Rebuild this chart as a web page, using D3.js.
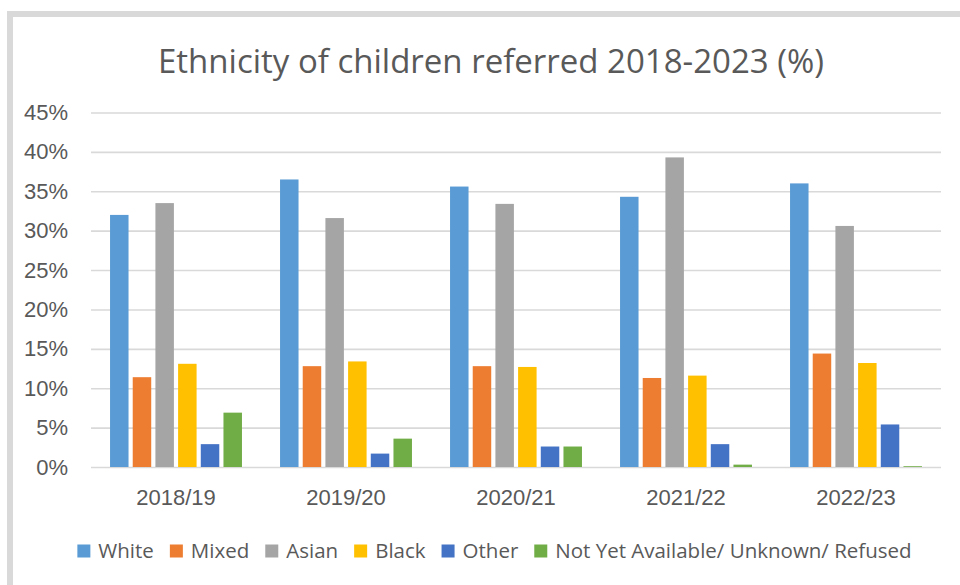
<!DOCTYPE html>
<html>
<head>
<meta charset="utf-8">
<script src="https://cdn.jsdelivr.net/npm/d3@7"></script>
<style>
  html, body { margin: 0; padding: 0; background: #ffffff; }
  svg { display: block; font-family: "Open Sans", "Noto Sans", sans-serif; }
</style>
</head>
<body>
<svg id="chart" width="960" height="585"></svg>
<script>
// Referral years (x categories)
const years = ["2018/19", "2019/20", "2020/21", "2021/22", "2022/23"];

// Ethnic groups (series) and their colours
const groups = ["White", "Mixed", "Asian", "Black", "Other", "Not Yet Available/ Unknown/ Refused"];
const groupColors = ["#5B9BD5", "#ED7D31", "#A5A5A5", "#FFC000", "#4472C4", "#70AD47"];

// Share of children referred (%), one array per group, in year order
const white   = [32.0, 36.5, 35.6, 34.3, 36.0];
const mixed   = [11.4, 12.8, 12.8, 11.3, 14.4];
const asian   = [33.5, 31.6, 33.4, 39.3, 30.6];
const black   = [13.1, 13.4, 12.7, 11.6, 13.2];
const other   = [2.9, 1.7, 2.6, 2.9, 5.4];
const unknown = [6.9, 3.6, 2.6, 0.3, 0.1];

// Y axis tick values (%)
const yTicks = [0, 5, 10, 15, 20, 25, 30, 35, 40, 45];

const seriesValues = [white, mixed, asian, black, other, unknown];
const rows = years.map((yr, i) => ({
  year: yr,
  values: groups.map((g, j) => ({ group: g, color: groupColors[j], value: seriesValues[j][i] }))
}));

const svg = d3.select("#chart");
const textColor = "#595959";
const gridColor = "#D9D9D9";

// Outer chart frame
svg.append("rect")
  .attr("x", 10).attr("y", 14)
  .attr("width", 980).attr("height", 600)
  .attr("fill", "#ffffff")
  .attr("stroke", gridColor)
  .attr("stroke-width", 6);

const plot = { left: 91, right: 941, top: 112.5, bottom: 467 };

const x0 = d3.scaleBand().domain(years).range([plot.left, plot.right]).padding(0);
const groupInset = x0.bandwidth() * 0.112;
const x1 = d3.scaleBand().domain(groups)
  .range([groupInset, x0.bandwidth() - groupInset])
  .paddingInner(0.185).paddingOuter(0);
const y = d3.scaleLinear().domain([0, 45]).range([plot.bottom, plot.top]);

// Gridlines and y tick labels
const yAxis = svg.append("g")
  .attr("transform", `translate(${plot.left},0)`)
  .call(d3.axisLeft(y).tickValues(yTicks)
    .tickSize(-(plot.right - plot.left))
    .tickPadding(23)
    .tickFormat(d => d + "%"));
yAxis.select(".domain").remove();
yAxis.selectAll(".tick line").attr("stroke", gridColor).attr("stroke-width", 1.6);
yAxis.selectAll(".tick text")
  .attr("fill", textColor)
  .style("font-size", "22px");

// Bars
const groupG = svg.append("g").selectAll("g")
  .data(rows).join("g")
  .attr("transform", d => `translate(${x0(d.year)},0)`);
groupG.selectAll("rect")
  .data(d => d.values).join("rect")
  .attr("x", d => x1(d.group))
  .attr("width", x1.bandwidth())
  .attr("y", d => y(d.value))
  .attr("height", d => y(0) - y(d.value))
  .attr("fill", d => d.color);

// X axis labels
const xAxis = svg.append("g")
  .attr("transform", `translate(0,${plot.bottom})`)
  .call(d3.axisBottom(x0).tickSize(0).tickPadding(22));
xAxis.select(".domain").remove();
xAxis.selectAll(".tick text")
  .attr("fill", textColor)
  .style("font-size", "22px");

// Title
svg.append("text")
  .attr("x", 491).attr("y", 73)
  .attr("text-anchor", "middle")
  .attr("fill", textColor)
  .style("font-size", "33px")
  .text("Ethnicity of children referred 2018-2023 (%)");

// Legend, centred under the plot
const legend = svg.append("g");
const swatch = 13, swatchGap = 8, itemGap = 16;
const items = legend.selectAll("g").data(groups).join("g");
items.append("rect")
  .attr("width", swatch).attr("height", swatch)
  .attr("y", -swatch / 2)
  .attr("fill", (d, i) => groupColors[i]);
items.append("text")
  .attr("x", swatch + swatchGap)
  .attr("dy", "0.35em")
  .attr("fill", textColor)
  .style("font-size", "20.5px")
  .text(d => d);
let cursor = 0;
items.each(function () {
  const w = d3.select(this).select("text").node().getComputedTextLength();
  d3.select(this).attr("transform", `translate(${cursor},0)`);
  cursor += swatch + swatchGap + w + itemGap;
});
const legendWidth = cursor - itemGap;
legend.attr("transform", `translate(${494.5 - legendWidth / 2},551)`);
</script>
</body>
</html>
